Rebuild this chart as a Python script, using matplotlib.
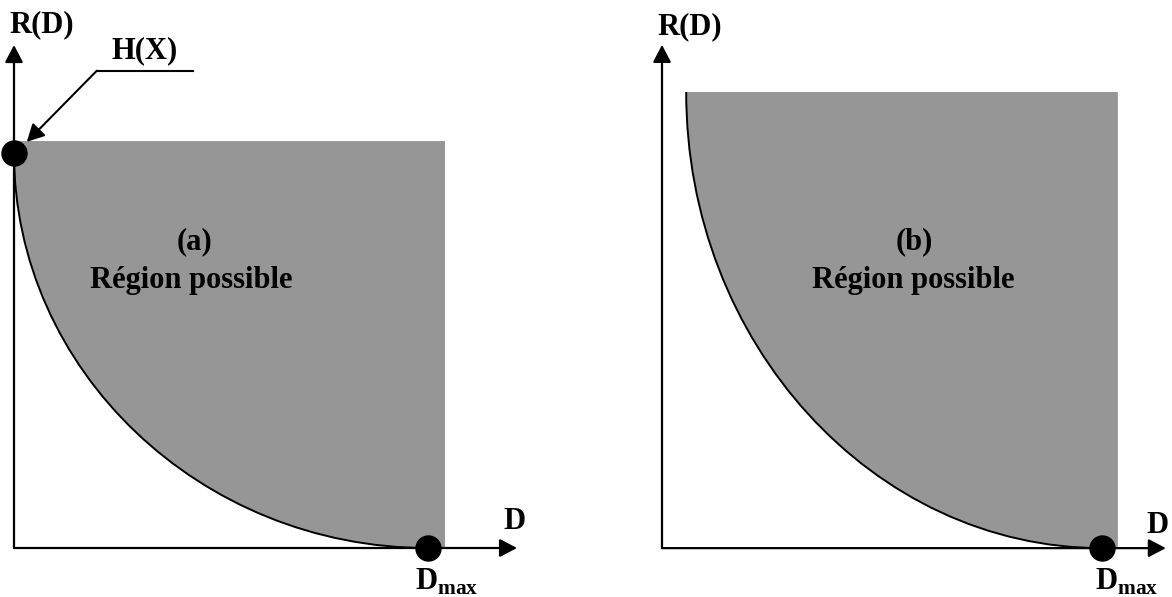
import matplotlib.pyplot as plt
from matplotlib.path import Path
from matplotlib.patches import PathPatch

plt.rcParams['font.family'] = ['Liberation Serif', 'DejaVu Serif']
plt.rcParams['font.weight'] = 'bold'
plt.rcParams['font.size'] = 22
plt.rcParams['mathtext.fontset'] = 'custom'
plt.rcParams['mathtext.rm'] = 'Liberation Serif:bold'
plt.rcParams['mathtext.bf'] = 'Liberation Serif:bold'

GRAY = '#969696'

# panel (a): R(D) starts at H(X) on the R axis and falls to 0 at Dmax
a_curve = [(0.0, 1.0), (0.0, 0.45), (0.45, 0.0), (1.0, 0.0)]
a_region_top = 1.03
a_region_right = 1.041
a_hx_label = 'H(X)'

# panel (b): R(D) starts off the axis (no finite H(X))
b_curve = [(0.055, 1.036), (0.055, 0.466), (0.48, 0.0), (1.0, 0.0)]
b_region_top = 1.036
b_region_right = 1.036

region_label = 'Région possible'
panel_labels = ['(a)', '(b)']
dmax_label = r'D$_{\mathrm{max}}$'

fig = plt.figure(figsize=(11.72, 5.97), dpi=100)
ax_a = fig.add_axes([0, 0, 0.5, 1])
ax_b = fig.add_axes([0.5, 0, 0.5, 1])

# limits chosen so both panels keep the same origin / Dmax spacing
ax_a.set_xlim(-0.0338, 1.3816)
ax_a.set_ylim(-0.124, 1.387)
ax_b.set_xlim(-0.1727, 1.159)
ax_b.set_ylim(-0.111, 1.245)
for ax in (ax_a, ax_b):
    ax.axis('off')

# annotate scales arrow heads with the font size, so pin it
HEAD = dict(arrowstyle='-|>,head_length=1.05,head_width=0.55', mutation_scale=10,
            color='black', shrinkA=0, shrinkB=0)


def region(ax, curve, top, right):
    (x0, y0), c1, c2, (x3, y3) = curve
    verts = [(x0, top), (x0, y0), c1, c2, (x3, y3), (right, 0), (right, top), (x0, top)]
    codes = [Path.MOVETO, Path.LINETO, Path.CURVE4, Path.CURVE4, Path.CURVE4,
             Path.LINETO, Path.LINETO, Path.CLOSEPOLY]
    ax.add_patch(PathPatch(Path(verts, codes), facecolor=GRAY, edgecolor='none', zorder=1))
    line = Path(curve, [Path.MOVETO, Path.CURVE4, Path.CURVE4, Path.CURVE4])
    ax.add_patch(PathPatch(line, facecolor='none', edgecolor='black', lw=1.4, zorder=2))


def axes_arrows(ax, xtip, ytip):
    ax.annotate('', xy=(xtip, 0), xytext=(0, 0), arrowprops=dict(HEAD, lw=1.6), zorder=3)
    ax.annotate('', xy=(0, ytip), xytext=(0, 0), arrowprops=dict(HEAD, lw=1.6), zorder=3)


def dot(ax, x, y):
    ax.plot([x], [y], 'o', color='black', ms=18, zorder=4, clip_on=False)


# (a)
region(ax_a, a_curve, a_region_top, a_region_right)
axes_arrows(ax_a, 1.215, 1.273)
dot(ax_a, *a_curve[0])
dot(ax_a, *a_curve[-1])
ax_a.plot([0.200, 0.432], [1.208, 1.208], color='black', lw=1.5)
ax_a.annotate('', xy=(0.031, 1.028), xytext=(0.200, 1.208), arrowprops=dict(HEAD, lw=1.5))
ax_a.text(0.316, 1.258, a_hx_label, ha='center', va='center')
ax_a.text(0.0676, 1.324, 'R(D)', ha='center', va='center')
ax_a.text(0.435, 0.775, panel_labels[0], ha='center', va='center')
ax_a.text(0.428, 0.658, region_label, ha='center', va='baseline')
ax_a.text(1.208, 0.066, 'D', ha='center', va='center')
ax_a.text(0.969, -0.106, dmax_label, ha='left', va='baseline')

# (b)
region(ax_b, b_curve, b_region_top, b_region_right)
axes_arrows(ax_b, 1.145, 1.143)
dot(ax_b, *b_curve[-1])
ax_b.text(0.0636, 1.184, 'R(D)', ha='center', va='center')
ax_b.text(0.573, 0.695, panel_labels[1], ha='center', va='center')
ax_b.text(0.570, 0.591, region_label, ha='center', va='baseline')
ax_b.text(1.127, 0.052, 'D', ha='center', va='center')
ax_b.text(0.984, -0.0955, dmax_label, ha='left', va='baseline')

fig.savefig('out.png', dpi=100)
